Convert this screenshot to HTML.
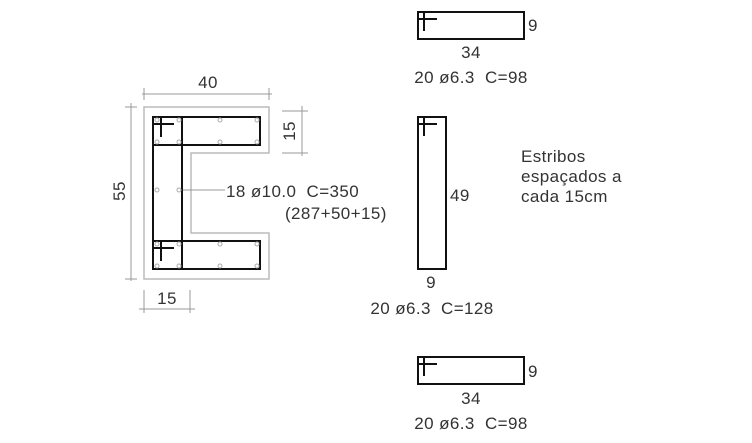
<!DOCTYPE html>
<html><head><meta charset="utf-8"><style>
html,body{margin:0;padding:0;background:#fff}
svg{display:block}
text{font-family:"Liberation Sans",sans-serif;font-size:17px;fill:#333;white-space:pre;letter-spacing:0.4px}
</style></head><body>
<svg width="752" height="443" viewBox="0 0 752 443" xmlns="http://www.w3.org/2000/svg">
<path d="M144 107 H269 V153 H191 V233 H269 V279 H144 Z" fill="none" stroke="#bbb" stroke-width="1.5"/>
<g stroke="#999" stroke-width="1" fill="none">
<line x1="142" y1="94" x2="272" y2="94"/>
<line x1="144" y1="88" x2="144" y2="100"/><line x1="269" y1="88" x2="269" y2="100"/>
<line x1="131" y1="103" x2="131" y2="281"/>
<line x1="125" y1="107" x2="137" y2="107"/><line x1="125" y1="279" x2="137" y2="279"/>
<line x1="302" y1="106" x2="302" y2="156"/>
<line x1="282" y1="111" x2="308" y2="111"/><line x1="282" y1="153" x2="308" y2="153"/>
<line x1="139" y1="309" x2="195" y2="309"/>
<line x1="144" y1="290" x2="144" y2="313"/><line x1="190" y1="290" x2="190" y2="313"/>
<line x1="181" y1="190" x2="225" y2="190"/>
</g>
<g stroke="#111" stroke-width="2" fill="none">
<rect x="153" y="117" width="107" height="28"/>
<rect x="153" y="241" width="107" height="28"/>
<rect x="153" y="117" width="29" height="152"/>
<path d="M161 117 V137 M153 124 H174"/>
<path d="M161 241 V261 M153 248 H174"/>
</g>
<g stroke="#aaa" stroke-width="1" fill="#fff">
<circle cx="157" cy="120" r="2"/><circle cx="179" cy="120" r="2"/><circle cx="220" cy="120" r="2"/><circle cx="257" cy="120" r="2"/>
<circle cx="157" cy="142" r="2"/><circle cx="179" cy="142" r="2"/><circle cx="220" cy="142" r="2"/><circle cx="257" cy="142" r="2"/>
<circle cx="157" cy="190" r="2"/><circle cx="179" cy="190" r="2"/>
<circle cx="157" cy="244" r="2"/><circle cx="179" cy="244" r="2"/><circle cx="220" cy="244" r="2"/><circle cx="257" cy="244" r="2"/>
<circle cx="157" cy="266" r="2"/><circle cx="179" cy="266" r="2"/><circle cx="220" cy="266" r="2"/><circle cx="257" cy="266" r="2"/>
</g>
<text x="208" y="88" text-anchor="middle">40</text>
<text transform="translate(125,191) rotate(-90)" text-anchor="middle">55</text>
<text transform="translate(295,131) rotate(-90)" text-anchor="middle">15</text>
<text x="167" y="304" text-anchor="middle">15</text>
<text x="226" y="197">18 ø10.0  C=350</text>
<text x="285" y="219">(287+50+15)</text>
<g stroke="#111" stroke-width="2" fill="none">
<rect x="418" y="12" width="106" height="27"/>
<path d="M424 12 V31 M418 19 H437"/>
<rect x="418" y="117" width="28" height="152"/>
<path d="M424 117 V136 M418 124 H437"/>
<rect x="418" y="357" width="106" height="27"/>
<path d="M424 357 V376 M418 364 H437"/>
</g>
<text x="528" y="31">9</text>
<text x="471" y="58" text-anchor="middle">34</text>
<text x="471" y="83" text-anchor="middle">20 ø6.3  C=98</text>
<text x="450" y="201">49</text>
<text x="431" y="288" text-anchor="middle">9</text>
<text x="432" y="314" text-anchor="middle">20 ø6.3  C=128</text>
<text x="528" y="377">9</text>
<text x="471" y="404" text-anchor="middle">34</text>
<text x="471" y="429" text-anchor="middle">20 ø6.3  C=98</text>
<text x="521" y="162">Estribos</text>
<text x="521" y="182">espaçados a</text>
<text x="521" y="202">cada 15cm</text>
</svg>
</body></html>
